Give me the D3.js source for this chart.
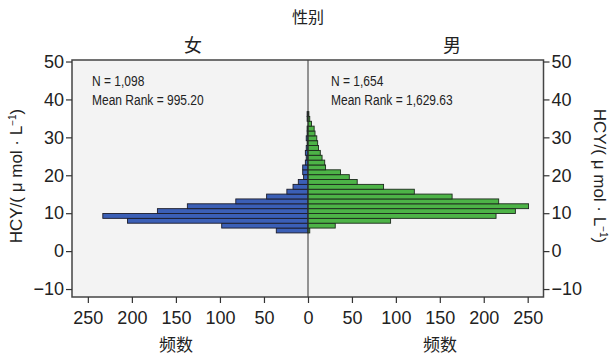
<!DOCTYPE html>
<html>
<head>
<meta charset="utf-8">
<script src="https://cdn.jsdelivr.net/npm/d3@7"></script>
<style>
  body { margin: 0; background: #fff; }
  svg text { font-family: "Liberation Sans", Arial, sans-serif; fill: #222; }
  .cjk { font-family: "Noto Sans CJK SC", sans-serif; }
  .stat { font-size: 15px; }
</style>
</head>
<body>
<svg id="chart" width="609" height="358"></svg>
<script>
// HCY bins (lower bound of each bin, μmol/L)
const binLower = [4.8, 6.08, 7.36, 8.64, 9.92, 11.2, 12.48, 13.76, 15.04, 16.32, 17.6, 18.88,
  20.16, 21.44, 22.72, 24.0, 25.28, 26.56, 27.84, 29.12, 30.4, 31.68, 32.96, 34.24, 35.52];
const binWidth = 1.28;
const femaleCounts = [36, 98, 205, 233, 171, 137, 82, 47, 24, 17, 11, 5, 6, 6, 3, 2, 3, 2, 1, 2, 1, 1, 0, 1, 1];
const maleCounts = [2, 31, 94, 214, 236, 251, 217, 164, 121, 86, 56, 47, 37, 20, 19, 16, 14, 12, 11, 10, 8, 7, 4, 2, 1];
const yTicks = [-10, 0, 10, 20, 30, 40, 50];
const xTicks = [0, 50, 100, 150, 200, 250];
const groupNames = ['女', '男'];
const groupN = ['1,098', '1,654'];
const groupRank = ['995.20', '1,629.63'];

const svg = d3.select('#chart');
const box = { left: 72, right: 543.5, top: 60, bottom: 297, mid: 308 };

const y = d3.scaleLinear().domain([-12.1, 50.4]).range([box.bottom, box.top]);
const xLeft = d3.scaleLinear().domain([0, 268]).range([box.mid, box.left]);
const xRight = d3.scaleLinear().domain([0, 268]).range([box.mid, box.right]);
const fmt = (d) => (d < 0 ? '\u2212' + (-d) : String(d));

svg.append('rect')
  .attr('x', box.left).attr('y', box.top)
  .attr('width', box.right - box.left).attr('height', box.bottom - box.top)
  .attr('fill', '#f3f3f3');

const rows = binLower.map((lo, i) => ({ lo, hi: lo + binWidth, f: femaleCounts[i], m: maleCounts[i] }));

svg.append('g').selectAll('rect')
  .data(rows.filter((d) => d.f > 0))
  .join('rect')
  .attr('x', (d) => xLeft(d.f))
  .attr('width', (d) => box.mid - xLeft(d.f))
  .attr('y', (d) => y(d.hi))
  .attr('height', (d) => y(d.lo) - y(d.hi))
  .attr('fill', '#3b5fb6')
  .attr('stroke', '#1c1c2a')
  .attr('stroke-width', 0.9);

svg.append('g').selectAll('rect')
  .data(rows.filter((d) => d.m > 0))
  .join('rect')
  .attr('x', box.mid)
  .attr('width', (d) => xRight(d.m) - box.mid)
  .attr('y', (d) => y(d.hi))
  .attr('height', (d) => y(d.lo) - y(d.hi))
  .attr('fill', '#4db347')
  .attr('stroke', '#1c2a1c')
  .attr('stroke-width', 0.9);

svg.append('line')
  .attr('x1', box.mid).attr('x2', box.mid)
  .attr('y1', box.top).attr('y2', box.bottom)
  .attr('stroke', '#333').attr('stroke-width', 1);

svg.append('rect')
  .attr('x', box.left).attr('y', box.top)
  .attr('width', box.right - box.left).attr('height', box.bottom - box.top)
  .attr('fill', 'none').attr('stroke', '#444').attr('stroke-width', 1.5);

function styleAxis(g) {
  g.select('.domain').remove();
  g.selectAll('line').attr('stroke', '#333').attr('stroke-width', 1.2);
  g.selectAll('text').attr('font-size', 18).attr('fill', '#222')
    .attr('font-family', '"Liberation Sans", Arial, sans-serif');
}

svg.append('g').attr('transform', `translate(${box.left},0)`)
  .call(d3.axisLeft(y).tickValues(yTicks).tickSize(6).tickPadding(2).tickFormat(fmt))
  .call(styleAxis);

svg.append('g').attr('transform', `translate(${box.right},0)`)
  .call(d3.axisRight(y).tickValues(yTicks).tickSize(6).tickPadding(2).tickFormat(fmt))
  .call(styleAxis);

svg.append('g').attr('transform', `translate(0,${box.bottom})`)
  .call(d3.axisBottom(xLeft).tickValues(xTicks).tickSize(6).tickPadding(8))
  .call(styleAxis);

svg.append('g').attr('transform', `translate(0,${box.bottom})`)
  .call(d3.axisBottom(xRight).tickValues(xTicks.slice(1)).tickSize(6).tickPadding(8))
  .call(styleAxis);

// titles
svg.append('text').attr('class', 'cjk').attr('x', box.mid).attr('y', 23)
  .attr('text-anchor', 'middle').attr('font-size', 16).text('性别');

[193, 452].forEach((x, i) => {
  svg.append('text').attr('class', 'cjk').attr('x', x).attr('y', 52)
    .attr('text-anchor', 'middle').attr('font-size', 18).text(groupNames[i]);
});

[176, 440].forEach((x) => {
  svg.append('text').attr('class', 'cjk').attr('x', x).attr('y', 351)
    .attr('text-anchor', 'middle').attr('font-size', 17).text('频数');
});

// stats text, horizontally condensed like the original
[92, 331].forEach((x, i) => {
  svg.append('text').attr('class', 'stat')
    .attr('transform', `translate(${x},86) scale(0.8,1)`).text(`N = ${groupN[i]}`);
  svg.append('text').attr('class', 'stat')
    .attr('transform', `translate(${x},105) scale(0.8,1)`).text(`Mean Rank = ${groupRank[i]}`);
});

function yTitle(x, angle) {
  const t = svg.append('text')
    .attr('transform', `translate(${x},176) rotate(${angle})`)
    .attr('text-anchor', 'middle').attr('font-size', 17);
  t.append('tspan').text('HCY/( μ mol · L');
  t.append('tspan').attr('dy', -6).attr('font-size', 10).text('\u22121');
  t.append('tspan').attr('dy', 6).text(')');
}
yTitle(22, -90);
yTitle(594, 90);
</script>
</body>
</html>
